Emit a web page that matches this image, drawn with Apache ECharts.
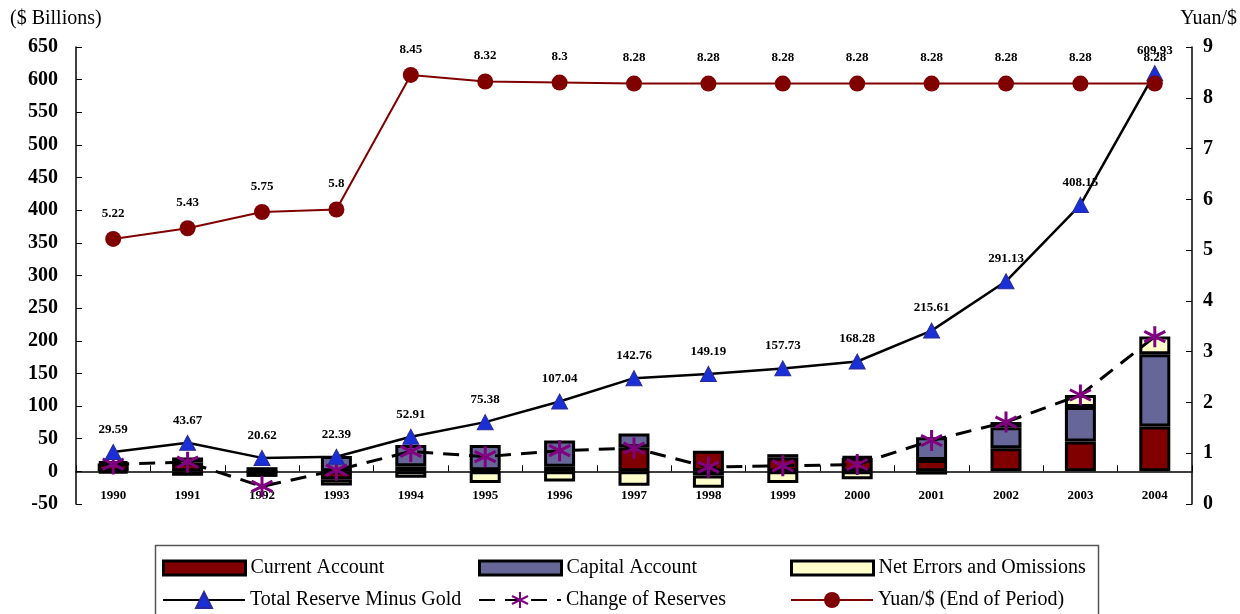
<!DOCTYPE html>
<html>
<head>
<meta charset="utf-8">
<title>China: Balance of Payments and Reserves</title>
<script src="https://cdn.jsdelivr.net/npm/echarts@6/dist/echarts.min.js"></script>
<style>
  html, body { margin: 0; padding: 0; background: #fff; }
  #chart { width: 1240px; height: 614px; }
</style>
</head>
<body>
<div id="chart"></div>
<script>
// Years on the category axis
const years = ['1990','1991','1992','1993','1994','1995','1996','1997','1998','1999','2000','2001','2002','2003','2004'];

// Balance of payments components ($ billions)
const currentAccount = [12.0, 13.3, 6.4, -11.9, 7.7, 1.6, 7.2, 37.0, 31.5, 21.1, 20.5, 17.4, 35.4, 45.9, 68.7];
const capitalAccount = [3.3, 8.0, -0.3, 23.5, 32.6, 38.7, 40.0, 21.0, -6.3, 5.2, 2.0, 34.8, 32.3, 52.7, 110.7];
const netErrors = [-3.1, -6.8, -8.2, -9.8, -9.8, -17.8, -15.5, -22.1, -18.9, -17.8, -11.9, -4.9, 7.8, 18.4, 27.0];

// Reserves ($ billions)
const totalReserveMinusGold = [29.59, 43.67, 20.62, 22.39, 52.91, 75.38, 107.04, 142.76, 149.19, 157.73, 168.28, 215.61, 291.13, 408.15, 609.93];
const changeOfReserves = [11.1, 14.1, -23.1, 1.8, 30.5, 22.5, 31.7, 35.7, 6.4, 8.5, 10.5, 47.3, 75.5, 117.0, 206.3];

// Exchange rate, end of period (yuan per dollar)
const yuanPerDollar = [5.22, 5.43, 5.75, 5.8, 8.45, 8.32, 8.3, 8.28, 8.28, 8.28, 8.28, 8.28, 8.28, 8.28, 8.28];

const SERIF = "'Liberation Serif', 'Times New Roman', 'DejaVu Serif', serif";

// Left value axis range; the category axis sits on its zero line
const LEFT_MIN = -50, LEFT_MAX = 650;
const GRID_TOP = 47, GRID_BOTTOM = 110, CHART_H = 614;
const plotH = CHART_H - GRID_TOP - GRID_BOTTOM;
const zeroOffset = -plotH * (0 - LEFT_MIN) / (LEFT_MAX - LEFT_MIN);

const chart = echarts.init(document.getElementById('chart'), null, { renderer: 'canvas' });

const barBorder = { borderColor: '#000', borderWidth: 3 };

// Star-shaped marker: six strokes through the centre
const starPath = 'path://M0,-10L0,10M-8.66,-5L8.66,5M-8.66,5L8.66,-5';

function legendItem(name, left, top, h, isBar) {
  const l = {
    data: [name],
    left: left,
    top: top,
    orient: 'horizontal',
    itemWidth: 82,
    itemHeight: h,
    itemGap: 0,
    padding: 0,
    textStyle: { fontFamily: SERIF, fontSize: 20, color: '#000' }
  };
  if (isBar) {
    l.icon = 'rect';
    l.itemStyle = { borderColor: '#000', borderWidth: 3 };
  }
  return l;
}

const option = {
  backgroundColor: '#fff',
  animation: false,
  grid: { left: 76, right: 48, top: GRID_TOP, bottom: GRID_BOTTOM, containLabel: false },
  graphic: [
    {
      type: 'rect',
      shape: { x: 155.5, y: 545.5, width: 943, height: 80 },
      style: { fill: 'none', stroke: '#555', lineWidth: 1.5 },
      silent: true
    },
    {
      type: 'text', left: 10, top: 9,
      style: { text: '($ Billions)', fontFamily: SERIF, fontSize: 20, fill: '#000' }
    },
    {
      type: 'text', right: 3, top: 9,
      style: { text: 'Yuan/$', fontFamily: SERIF, fontSize: 20, fill: '#000' }
    }
  ],
  legend: [
    legendItem('Current Account', 162, 558, 14, true),
    legendItem('Capital Account', 478, 558, 14, true),
    legendItem('Net Errors and Omissions', 790, 558, 14, true),
    legendItem('Total Reserve Minus Gold', 162, 590, 20, false),
    legendItem('Change of Reserves', 478, 590, 20, false),
    legendItem('Yuan/$ (End of Period)', 790, 590, 20, false)
  ],
  xAxis: {
    type: 'category',
    data: years,
    boundaryGap: true,
    position: 'bottom',
    offset: zeroOffset,
    axisLine: { onZero: false, lineStyle: { color: '#000', width: 1.5 } },
    axisTick: { show: true, inside: true, length: 6, lineStyle: { color: '#000', width: 1 } },
    axisLabel: { margin: 18, fontFamily: SERIF, fontSize: 13, fontWeight: 'bold', color: '#000' },
    splitLine: { show: false }
  },
  yAxis: [
    {
      type: 'value',
      min: LEFT_MIN, max: LEFT_MAX, interval: 50,
      position: 'left',
      axisLine: { show: true, onZero: false, lineStyle: { color: '#000', width: 1.5 } },
      axisTick: { show: true, inside: true, length: 6, lineStyle: { color: '#000' } },
      axisLabel: { margin: 18, fontFamily: SERIF, fontSize: 20, fontWeight: 'bold', color: '#000' },
      splitLine: { show: false }
    },
    {
      type: 'value',
      min: 0, max: 9, interval: 1,
      position: 'right',
      axisLine: { show: true, onZero: false, lineStyle: { color: '#000', width: 1.5 } },
      axisTick: { show: true, inside: true, length: 6, lineStyle: { color: '#000' } },
      axisLabel: { margin: 11, fontFamily: SERIF, fontSize: 20, fontWeight: 'bold', color: '#000' },
      splitLine: { show: false }
    }
  ],
  series: [
    {
      name: 'Current Account', type: 'bar', stack: 'bop', barWidth: 31,
      itemStyle: Object.assign({ color: '#800000' }, barBorder),
      data: currentAccount
    },
    {
      name: 'Capital Account', type: 'bar', stack: 'bop', barWidth: 31,
      itemStyle: Object.assign({ color: '#666699' }, barBorder),
      data: capitalAccount
    },
    {
      name: 'Net Errors and Omissions', type: 'bar', stack: 'bop', barWidth: 31,
      itemStyle: Object.assign({ color: '#FFFFCC' }, barBorder),
      data: netErrors
    },
    {
      name: 'Total Reserve Minus Gold', type: 'line', yAxisIndex: 0, z: 5,
      symbol: 'triangle', symbolSize: [16, 15],
      lineStyle: { color: '#000', width: 2.5 },
      itemStyle: { color: '#1a2fd6', borderColor: '#2a2a9a', borderWidth: 1 },
      label: {
        show: true, position: 'top', distance: 8,
        fontFamily: SERIF, fontSize: 13, fontWeight: 'bold', color: '#000'
      },
      data: totalReserveMinusGold
    },
    {
      name: 'Change of Reserves', type: 'line', yAxisIndex: 0, z: 4,
      symbol: starPath, symbolSize: 21,
      lineStyle: { color: '#000', width: 3, type: [16, 10] },
      itemStyle: { color: 'rgba(0,0,0,0)', borderColor: '#800080', borderWidth: 3 },
      data: changeOfReserves
    },
    {
      name: 'Yuan/$ (End of Period)', type: 'line', yAxisIndex: 1, z: 6,
      symbol: 'circle', symbolSize: 16,
      lineStyle: { color: '#800000', width: 2 },
      itemStyle: { color: '#800000' },
      label: {
        show: true, position: 'top', distance: 11,
        fontFamily: SERIF, fontSize: 13, fontWeight: 'bold', color: '#000'
      },
      data: yuanPerDollar
    }
  ]
};

chart.setOption(option);
</script>
</body>
</html>
